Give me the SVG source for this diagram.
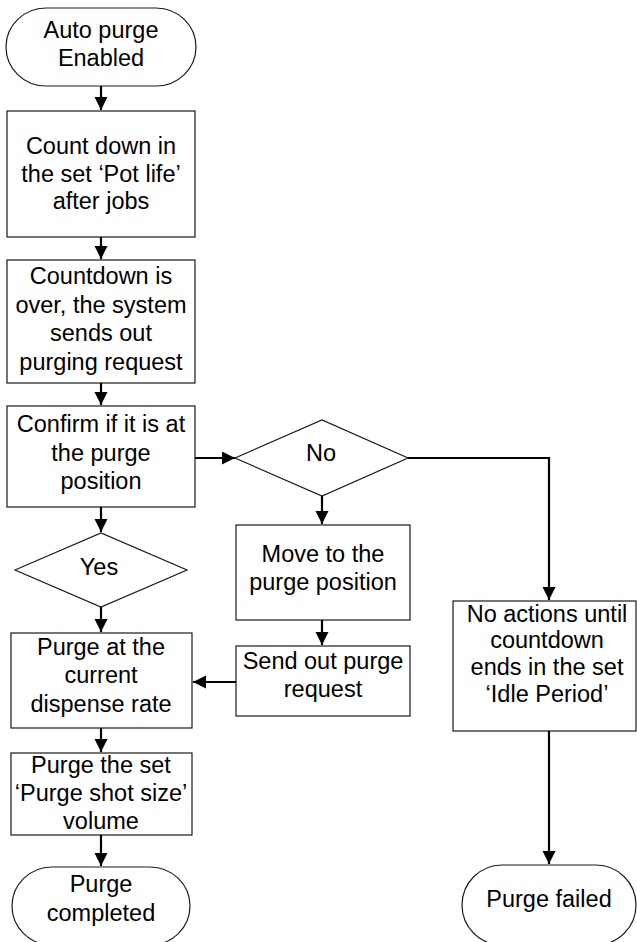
<svg xmlns="http://www.w3.org/2000/svg" width="637" height="942" viewBox="0 0 637 942">
<defs>
<marker id="ah" markerWidth="14" markerHeight="14" refX="13" refY="6.5" orient="auto" markerUnits="userSpaceOnUse">
<path d="M0,0 L13,6.5 L0,13 Z" fill="#000"/>
</marker>
</defs>
<style>
.shape{fill:#fff;stroke:#1a1a1a;stroke-width:1.2}
.t{font-family:"Liberation Sans",Arial,sans-serif;font-size:23.5px;fill:#000;text-anchor:middle}
.c{fill:none;stroke:#000;stroke-width:2.2}
</style>
<rect width="637" height="942" fill="#fff"/>
<g id="n_start">
<rect class="shape" x="6" y="8" width="190" height="78" rx="40" ry="39"/>
<text class="t" x="101" y="38">Auto purge</text>
<text class="t" x="101" y="66">Enabled</text>
</g>
<g id="n_countdown">
<rect class="shape" x="7" y="111" width="188" height="126"/>
<text class="t" x="101" y="154">Count down in</text>
<text class="t" x="101" y="181.5">the set ‘Pot life’</text>
<text class="t" x="101" y="209">after jobs</text>
</g>
<g id="n_request">
<rect class="shape" x="7" y="260" width="188" height="123"/>
<text class="t" x="101" y="284">Countdown is</text>
<text class="t" x="101" y="312.5">over, the system</text>
<text class="t" x="101" y="341">sends out</text>
<text class="t" x="101" y="369.5">purging request</text>
</g>
<g id="n_confirm">
<rect class="shape" x="7" y="406" width="188" height="101"/>
<text class="t" x="101" y="432">Confirm if it is at</text>
<text class="t" x="101" y="460.5">the purge</text>
<text class="t" x="101" y="489">position</text>
</g>
<g id="n_no">
<polygon class="shape" points="235,458 322,420 408,458 322,496"/>
<text class="t" x="321" y="461">No</text>
</g>
<g id="n_yes">
<polygon class="shape" points="15,570 101,533 187,570 101,607"/>
<text class="t" x="99" y="575">Yes</text>
</g>
<g id="n_move">
<rect class="shape" x="236" y="525" width="174" height="95"/>
<text class="t" x="323" y="562">Move to the</text>
<text class="t" x="323" y="590">purge position</text>
</g>
<g id="n_send">
<rect class="shape" x="236" y="646" width="174" height="70"/>
<text class="t" x="323" y="669">Send out purge</text>
<text class="t" x="323" y="697">request</text>
</g>
<g id="n_noaction">
<rect class="shape" x="453" y="601" width="183" height="130"/>
<text class="t" x="547" y="621.5">No actions until</text>
<text class="t" x="547" y="648">countdown</text>
<text class="t" x="547" y="675">ends in the set</text>
<text class="t" x="547" y="702">‘Idle Period’</text>
</g>
<g id="n_purgeat">
<rect class="shape" x="11" y="633" width="181" height="95"/>
<text class="t" x="101" y="655">Purge at the</text>
<text class="t" x="101" y="683">current</text>
<text class="t" x="101" y="711.5">dispense rate</text>
</g>
<g id="n_purgeset">
<rect class="shape" x="11" y="753" width="181" height="82"/>
<text class="t" x="101" y="772.5">Purge the set</text>
<text class="t" x="101" y="800.5">‘Purge shot size’</text>
<text class="t" x="101" y="829">volume</text>
</g>
<g id="n_completed">
<rect class="shape" x="12" y="867" width="178" height="78" rx="40" ry="39"/>
<text class="t" x="101" y="891.5">Purge</text>
<text class="t" x="101" y="921">completed</text>
</g>
<g id="n_failed">
<rect class="shape" x="462" y="865" width="174" height="80" rx="40" ry="40"/>
<text class="t" x="549" y="907">Purge failed</text>
</g>
<g id="connectors">
<path class="c" d="M101,86 V110" marker-end="url(#ah)"/>
<path class="c" d="M101,237 V259" marker-end="url(#ah)"/>
<path class="c" d="M101,383 V405" marker-end="url(#ah)"/>
<path class="c" d="M195,458 H235" marker-end="url(#ah)"/>
<path class="c" d="M101,507 V532" marker-end="url(#ah)"/>
<path class="c" d="M408,458 H549 V600" marker-end="url(#ah)"/>
<path class="c" d="M322,496 V524" marker-end="url(#ah)"/>
<path class="c" d="M322,620 V645" marker-end="url(#ah)"/>
<path class="c" d="M236,682 H193" marker-end="url(#ah)"/>
<path class="c" d="M101,607 V632" marker-end="url(#ah)"/>
<path class="c" d="M101,728 V752" marker-end="url(#ah)"/>
<path class="c" d="M101,835 V866" marker-end="url(#ah)"/>
<path class="c" d="M549,731 V864" marker-end="url(#ah)"/>
</g>
</svg>
